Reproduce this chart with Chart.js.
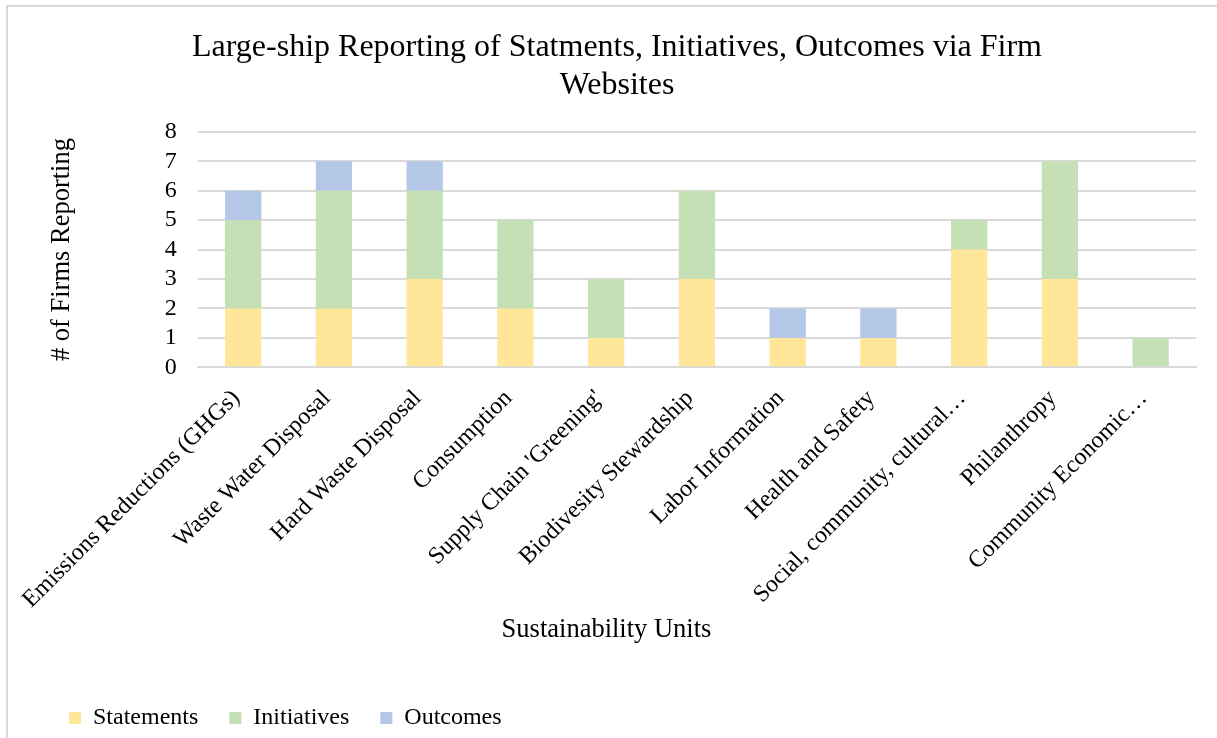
<!DOCTYPE html>
<html>
<head>
<meta charset="utf-8">
<script src="https://cdn.jsdelivr.net/npm/chart.js@4/dist/chart.umd.min.js"></script>
<style>
  body { margin: 0; background: #fff; overflow: hidden; }
  .frame { position: absolute; left: 6px; top: 5px; width: 1300px; height: 800px; border: 2px solid #d9d9d9; }
  #bar_chart { position: absolute; left: 0; top: 0; }
</style>
</head>
<body>
<div class="frame"></div>
<canvas id="bar_chart" width="1217" height="738"></canvas>
<script>
var categories = ["Emissions Reductions (GHGs)", "Waste Water Disposal", "Hard Waste Disposal", "Consumption",
  "Supply Chain 'Greening'", "Biodivesity Stewardship", "Labor Information", "Health and Safety",
  "Social, community, cultural\u2026", "Philanthropy", "Community Economic\u2026"];
var statements  = [2, 2, 3, 2, 1, 3, 1, 1, 4, 3, 0];
var initiatives = [3, 4, 3, 3, 2, 3, 0, 0, 1, 4, 1];
var outcomes    = [1, 1, 1, 0, 0, 0, 1, 1, 0, 0, 0];
var yMax = 8;

var serif = "'Liberation Serif', 'Times New Roman', serif";
var xTitle = "Sustainability Units";
var xTitleRoom = 44;

// draws the category axis title centred on the whole chart, between the labels and the legend
var xTitlePlugin = {
  id: 'xTitle',
  afterDraw: function (chart) {
    var ctx = chart.ctx;
    var x = chart.scales.x;
    ctx.save();
    ctx.font = "26.5px " + serif;
    ctx.fillStyle = "#000";
    ctx.textAlign = "center";
    ctx.textBaseline = "middle";
    ctx.fillText(xTitle, chart.width / 2 - 2, x.bottom - 45);
    ctx.restore();
  }
};

function dataset(label, data, color) {
  return {
    label: label,
    data: data,
    backgroundColor: color,
    borderWidth: 0,
    barPercentage: 0.5,
    categoryPercentage: 0.8
  };
}

new Chart(document.getElementById("bar_chart").getContext("2d"), {
  type: 'bar',
  data: {
    labels: categories,
    datasets: [
      dataset("Statements", statements, "#FFE699"),
      dataset("Initiatives", initiatives, "#C5E0B4"),
      dataset("Outcomes", outcomes, "#B4C7E7")
    ]
  },
  options: {
    responsive: false,
    animation: false,
    layout: { padding: { left: 38, right: 21, top: 0, bottom: -2 } },
    plugins: {
      title: {
        display: true,
        text: ["Large-ship Reporting of Statments, Initiatives, Outcomes via Firm", "Websites"],
        color: "#000",
        font: { family: serif, size: 32, weight: 'normal', lineHeight: 1.2 },
        padding: { top: 28, bottom: 27 }
      },
      legend: {
        position: 'bottom',
        align: 'start',
        labels: {
          color: "#000",
          font: { family: serif, size: 24 },
          boxWidth: 12,
          boxHeight: 12,
          padding: 31
        }
      },
      tooltip: { enabled: false }
    },
    scales: {
      x: {
        stacked: true,
        grid: { display: false, drawTicks: false },
        border: { display: true, color: "#d9d9d9", width: 2 },
        ticks: {
          color: "#000",
          font: { family: serif, size: 24 },
          minRotation: 45,
          maxRotation: 45,
          autoSkip: false,
          padding: 17,
          labelOffset: -7
        },
        afterFit: function (scale) { scale.height += xTitleRoom; }
      },
      y: {
        stacked: true,
        min: 0,
        max: yMax,
        grid: { color: "#d9d9d9", lineWidth: 2, drawTicks: false },
        border: { display: false },
        ticks: {
          stepSize: 1,
          autoSkip: false,
          color: "#000",
          font: { family: serif, size: 24 },
          padding: 21
        },
        title: {
          display: true,
          text: "# of Firms Reporting",
          color: "#000",
          font: { family: serif, size: 26.5 },
          padding: { top: 8, bottom: 66 }
        }
      }
    }
  },
  plugins: [xTitlePlugin]
});
</script>
</body>
</html>
